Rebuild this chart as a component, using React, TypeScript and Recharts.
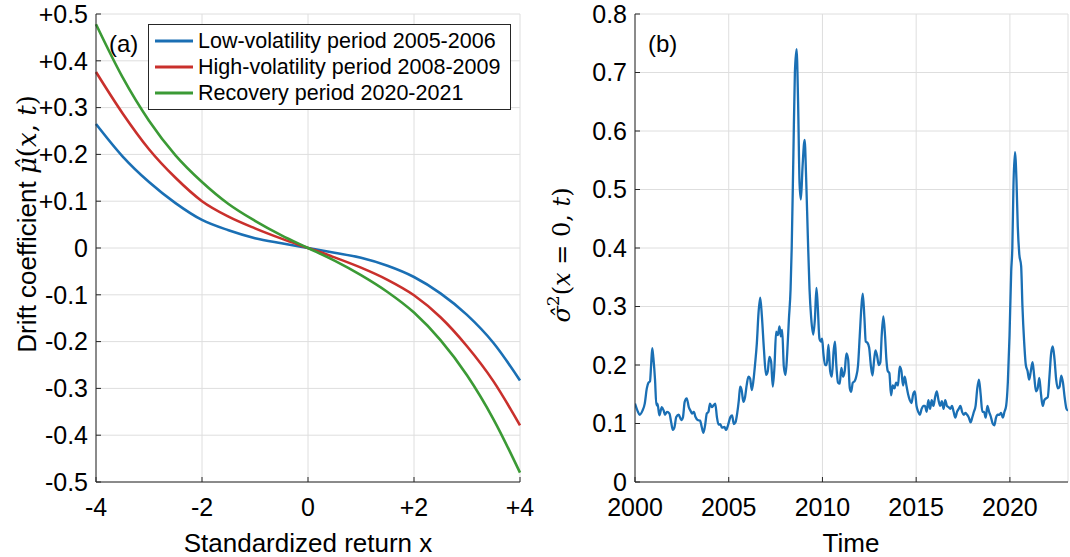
import { CartesianGrid, Legend, Line, LineChart, XAxis, YAxis } from 'recharts';

const FONT = '"Liberation Sans", Arial, Helvetica, sans-serif';
const SERIF = '"DejaVu Serif", "Liberation Serif", serif';
const AXIS = '#262626';
const GRID = '#dedede';

// panel (a): drift curves sampled on standardized return x
const returnX = [-4, -3.5, -3, -2.5, -2, -1.5, -1, -0.5, 0, 0.5, 1, 1.5, 2, 2.5, 3, 3.5, 4];
const lowVol = [0.265, 0.196, 0.141, 0.096, 0.06, 0.038, 0.021, 0.01, 0, -0.01, -0.021, -0.038, -0.062, -0.097, -0.143, -0.203, -0.283];
const highVol = [0.376, 0.288, 0.211, 0.15, 0.1, 0.067, 0.042, 0.02, 0, -0.02, -0.042, -0.068, -0.101, -0.148, -0.21, -0.285, -0.379];
const recovery = [0.478, 0.365, 0.272, 0.198, 0.141, 0.094, 0.058, 0.027, 0, -0.027, -0.058, -0.094, -0.138, -0.197, -0.272, -0.366, -0.48];
const seriesNames = ['Low-volatility period 2005-2006', 'High-volatility period 2008-2009', 'Recovery period 2020-2021'];
const driftTicksX = [-4, -2, 0, 2, 4];
const driftTicksY = [-0.5, -0.4, -0.3, -0.2, -0.1, 0, 0.1, 0.2, 0.3, 0.4, 0.5];

// panel (b): sigma^2 at x=0 over time
const volTime = [
  2000.0, 2000.13, 2000.25, 2000.4, 2000.52, 2000.63, 2000.72, 2000.8, 2000.86, 2000.92, 2000.98, 2001.07, 2001.14, 2001.2, 2001.3,
  2001.43, 2001.53, 2001.6, 2001.71, 2001.84, 2001.93, 2002.02, 2002.11, 2002.2, 2002.33, 2002.47, 2002.56, 2002.65, 2002.76, 2002.87,
  2002.96, 2003.05, 2003.14, 2003.23, 2003.34, 2003.47, 2003.56, 2003.65, 2003.74, 2003.83, 2003.92, 2004.0, 2004.1, 2004.19, 2004.28,
  2004.37, 2004.46, 2004.55, 2004.64, 2004.77, 2004.86, 2004.96, 2005.09, 2005.18, 2005.27, 2005.36, 2005.45, 2005.54, 2005.61, 2005.69,
  2005.78, 2005.87, 2005.96, 2006.05, 2006.14, 2006.23, 2006.32, 2006.41, 2006.5, 2006.59, 2006.68, 2006.77, 2006.88, 2006.99, 2007.08,
  2007.17, 2007.26, 2007.35, 2007.44, 2007.53, 2007.62, 2007.71, 2007.78, 2007.85, 2007.94, 2008.03, 2008.12, 2008.21, 2008.3, 2008.36,
  2008.45, 2008.53, 2008.62, 2008.7, 2008.78, 2008.85, 2008.94, 2009.05, 2009.13, 2009.22, 2009.31, 2009.4, 2009.51, 2009.6, 2009.68,
  2009.75, 2009.84, 2009.93, 2009.98, 2010.05, 2010.14, 2010.23, 2010.32, 2010.41, 2010.5, 2010.6, 2010.67, 2010.74, 2010.83, 2010.92,
  2011.01, 2011.1, 2011.19, 2011.28, 2011.37, 2011.46, 2011.53, 2011.62, 2011.71, 2011.8, 2011.9, 2011.99, 2012.08, 2012.15, 2012.24,
  2012.31, 2012.4, 2012.49, 2012.58, 2012.67, 2012.76, 2012.83, 2012.92, 2013.0, 2013.09, 2013.16, 2013.25, 2013.34, 2013.41, 2013.48,
  2013.57, 2013.66, 2013.75, 2013.84, 2013.93, 2014.03, 2014.12, 2014.21, 2014.3, 2014.39, 2014.48, 2014.57, 2014.66, 2014.75, 2014.84,
  2014.93, 2015.02, 2015.11, 2015.2, 2015.29, 2015.38, 2015.47, 2015.56, 2015.65, 2015.74, 2015.83, 2015.92, 2016.01, 2016.1, 2016.19,
  2016.28, 2016.37, 2016.46, 2016.55, 2016.64, 2016.73, 2016.82, 2016.91, 2017.0, 2017.09, 2017.18, 2017.27, 2017.36, 2017.45, 2017.54,
  2017.63, 2017.72, 2017.81, 2017.9, 2017.99, 2018.08, 2018.17, 2018.26, 2018.35, 2018.44, 2018.53, 2018.62, 2018.71, 2018.8, 2018.89,
  2018.98, 2019.08, 2019.17, 2019.26, 2019.35, 2019.44, 2019.53, 2019.62, 2019.71, 2019.8, 2019.89, 2019.98, 2020.07, 2020.13, 2020.19,
  2020.27, 2020.35, 2020.42, 2020.5, 2020.6, 2020.67, 2020.76, 2020.85, 2020.94, 2021.03, 2021.12, 2021.21, 2021.3, 2021.39, 2021.48,
  2021.57, 2021.66, 2021.75, 2021.84, 2021.93, 2022.02, 2022.11, 2022.2, 2022.29, 2022.38, 2022.47, 2022.56, 2022.65, 2022.74, 2022.83,
  2022.92, 2023.02, 2023.1,
];
const volValue = [
  0.134, 0.122, 0.115, 0.122, 0.134, 0.16, 0.17, 0.172, 0.2, 0.229, 0.212, 0.174, 0.131, 0.134, 0.114,
  0.128, 0.122, 0.115, 0.12, 0.117, 0.102, 0.089, 0.094, 0.111, 0.115, 0.106, 0.111, 0.137, 0.143, 0.128,
  0.122, 0.117, 0.12, 0.111, 0.106, 0.105, 0.094, 0.084, 0.097, 0.117, 0.12, 0.134, 0.128, 0.131, 0.134,
  0.111, 0.098, 0.099, 0.093, 0.094, 0.089, 0.097, 0.111, 0.114, 0.099, 0.102, 0.117, 0.14, 0.163, 0.157,
  0.137, 0.145, 0.166, 0.18, 0.177, 0.157, 0.174, 0.203, 0.237, 0.289, 0.315, 0.283, 0.226, 0.183, 0.189,
  0.214, 0.206, 0.163, 0.197, 0.257, 0.251, 0.266, 0.249, 0.26, 0.197, 0.183, 0.22, 0.278, 0.33, 0.4,
  0.56, 0.7, 0.74, 0.65, 0.51, 0.483, 0.54, 0.585, 0.52, 0.42, 0.33, 0.28, 0.252, 0.28, 0.332,
  0.3, 0.245, 0.24, 0.245, 0.22, 0.2, 0.2, 0.235, 0.19, 0.18, 0.225, 0.24, 0.2, 0.17, 0.168,
  0.195, 0.18, 0.19, 0.22, 0.21, 0.16, 0.154, 0.17, 0.172, 0.18, 0.2, 0.25, 0.3, 0.322, 0.28,
  0.24, 0.238, 0.23, 0.2, 0.182, 0.21, 0.225, 0.215, 0.2, 0.205, 0.25, 0.283, 0.25, 0.21, 0.19,
  0.186, 0.148, 0.165, 0.16, 0.17, 0.165, 0.197, 0.19, 0.165, 0.18, 0.165, 0.15, 0.14, 0.135, 0.15,
  0.155, 0.13, 0.12, 0.115, 0.125, 0.13, 0.13, 0.12, 0.14, 0.125, 0.14, 0.13, 0.145, 0.155, 0.14,
  0.13, 0.138, 0.125, 0.14, 0.13, 0.128, 0.125, 0.13, 0.12, 0.11, 0.12, 0.125, 0.13, 0.12, 0.115,
  0.118, 0.115, 0.11, 0.102, 0.11, 0.12, 0.13, 0.16, 0.175, 0.15, 0.12, 0.12, 0.11, 0.13, 0.12,
  0.112, 0.1, 0.097, 0.11, 0.115, 0.115, 0.118, 0.11, 0.12, 0.13, 0.17, 0.25, 0.36, 0.4, 0.506,
  0.564, 0.517, 0.437, 0.39, 0.369, 0.3, 0.24, 0.2, 0.19, 0.175, 0.19, 0.205, 0.18, 0.155, 0.16,
  0.178, 0.15, 0.13, 0.14, 0.143, 0.145, 0.18, 0.22, 0.232, 0.21, 0.175, 0.16, 0.163, 0.182, 0.17,
  0.145, 0.125, 0.122,
];
const volTicksX = [2000, 2005, 2010, 2015, 2020];
const volTicksY = [0, 0.1, 0.2, 0.3, 0.4, 0.5, 0.6, 0.7, 0.8];

const driftData = returnX.map((x, i) => ({ x, low: lowVol[i], high: highVol[i], rec: recovery[i] }));
const volData = volTime.map((t, i) => ({ t, v: volValue[i] }));

const signed = (v: number) => (v > 0 ? `+${v}` : `${v}`);
const tickStyle = { fill: '#000', fontSize: 25, fontFamily: FONT };

function DriftLegend({ payload }: any) {
  // keep the plotting order, not the alphabetical one
  const items = [...(payload || [])].sort((a: any, b: any) => seriesNames.indexOf(a.value) - seriesNames.indexOf(b.value));
  return (
    <div style={{ border: `1px solid ${AXIS}`, background: '#fff', padding: '3px 10px 3px 6px', fontFamily: FONT, fontSize: 21.5, color: '#000' }}>
      {items.map((p: any) => (
        <div key={p.value} style={{ display: 'flex', alignItems: 'center', height: 26, whiteSpace: 'nowrap' }}>
          <svg width={38} height={4} style={{ display: 'block' }}>
            <line x1={0} x2={38} y1={2} y2={2} stroke={p.color} strokeWidth={3} />
          </svg>
          <span style={{ marginLeft: 5 }}>{p.value}</span>
        </div>
      ))}
    </div>
  );
}

export default function App() {
  return (
    <div style={{ position: 'absolute', left: 0, top: 0, width: 1070, height: 557, background: '#fff' }}>
      <div style={{ position: 'absolute', left: 0, top: 0 }}>
        <LineChart width={540} height={557} data={driftData} margin={{ top: 14, right: 20, bottom: 45, left: 36 }}>
          <CartesianGrid stroke={GRID} />
          <XAxis dataKey="x" type="number" domain={[-4, 4]} ticks={driftTicksX} tickFormatter={signed}
            stroke={AXIS} tickSize={-5} tickMargin={21} tick={tickStyle} interval={0} />
          <XAxis xAxisId="top" orientation="top" dataKey="x" type="number" domain={[-4, 4]} ticks={driftTicksX}
            stroke={AXIS} tickSize={-5} tick={false} height={0} />
          <YAxis type="number" domain={[-0.5, 0.5]} ticks={driftTicksY} tickFormatter={signed} width={60}
            stroke={AXIS} tickSize={-5} tickMargin={13} tick={tickStyle} interval={0} />
          <YAxis yAxisId="right" orientation="right" type="number" domain={[-0.5, 0.5]} ticks={driftTicksY}
            stroke={AXIS} tickSize={-5} tick={false} width={0} />
          <Legend layout="vertical" align="center" verticalAlign="middle" content={<DriftLegend />}
            wrapperStyle={{ left: 148, top: 24, width: 'auto', height: 'auto' }} />
          <Line dataKey="low" name={seriesNames[0]} type="monotone" stroke="#1a6fb4" strokeWidth={2.6} dot={false} isAnimationActive={false} />
          <Line dataKey="high" name={seriesNames[1]} type="monotone" stroke="#c9302c" strokeWidth={2.6} dot={false} isAnimationActive={false} />
          <Line dataKey="rec" name={seriesNames[2]} type="monotone" stroke="#3b9a35" strokeWidth={2.6} dot={false} isAnimationActive={false} />
          <text x={109} y={43} dominantBaseline="central" fontSize={24} fontFamily={FONT} fill="#000">(a)</text>
          <text x={308} y={552} textAnchor="middle" fontSize={26} fontFamily={FONT} fill="#000">Standardized return x</text>
          <text transform="translate(27,224) rotate(-90)" textAnchor="middle" dominantBaseline="central" fontSize={26} fontFamily={FONT} fill="#000">
            Drift coefficient{' '}
            <tspan fontFamily={SERIF} fontStyle="italic">μ̂</tspan>
            <tspan fontFamily={SERIF}>(</tspan>
            <tspan fontFamily={SERIF} fontStyle="italic">x</tspan>
            <tspan fontFamily={SERIF}>, </tspan>
            <tspan fontFamily={SERIF} fontStyle="italic">t</tspan>
            <tspan fontFamily={SERIF}>)</tspan>
          </text>
        </LineChart>
      </div>
      <div style={{ position: 'absolute', left: 540, top: 0 }}>
        <LineChart width={530} height={557} data={volData} margin={{ top: 14, right: 2, bottom: 45, left: 35 }}>
          <CartesianGrid stroke={GRID} />
          <XAxis dataKey="t" type="number" domain={[2000, 2023.1]} ticks={volTicksX} allowDataOverflow
            stroke={AXIS} tickSize={-5} tickMargin={21} tick={tickStyle} interval={0} />
          <XAxis xAxisId="top" orientation="top" dataKey="t" type="number" domain={[2000, 2023.1]} ticks={volTicksX} allowDataOverflow
            stroke={AXIS} tickSize={-5} tick={false} height={0} />
          <YAxis type="number" domain={[0, 0.8]} ticks={volTicksY} width={60}
            stroke={AXIS} tickSize={-5} tickMargin={13} tick={tickStyle} interval={0} />
          <YAxis yAxisId="right" orientation="right" type="number" domain={[0, 0.8]} ticks={volTicksY}
            stroke={AXIS} tickSize={-5} tick={false} width={0} />
          <Line dataKey="v" type="monotone" stroke="#1a6fb4" strokeWidth={2.3} dot={false} isAnimationActive={false} />
          <text x={108} y={43} dominantBaseline="central" fontSize={24} fontFamily={FONT} fill="#000">(b)</text>
          <text x={311} y={552} textAnchor="middle" fontSize={26} fontFamily={FONT} fill="#000">Time</text>
          <text transform="translate(22,255) rotate(-90)" textAnchor="middle" dominantBaseline="central" fontSize={24} fontFamily={SERIF} fill="#000">
            <tspan fontStyle="italic">σ̂</tspan>
            <tspan fontSize={17} dy={-9}>2</tspan>
            <tspan dy={9}>(</tspan>
            <tspan fontStyle="italic">x</tspan>
            <tspan> = 0, </tspan>
            <tspan fontStyle="italic">t</tspan>
            <tspan>)</tspan>
          </text>
        </LineChart>
      </div>
    </div>
  );
}
